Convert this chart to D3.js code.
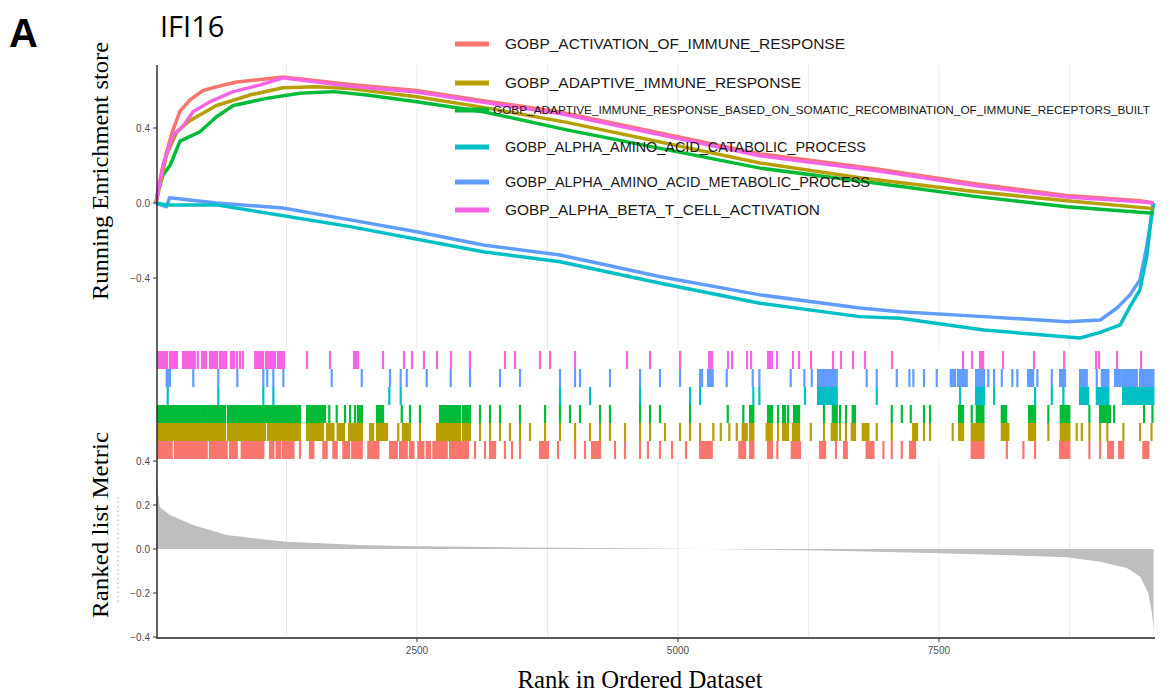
<!DOCTYPE html>
<html>
<head>
<meta charset="utf-8">
<script src="https://cdn.jsdelivr.net/npm/d3@7"></script>
<style>
  body { margin: 0; background: #fff; }
</style>
</head>
<body>
<script>
// GSEA plot for IFI16 - running ES, hit rug, ranked list metric
var W = 1170, H = 693;
var N = 9560;

var setNames = [
  "GOBP_ACTIVATION_OF_IMMUNE_RESPONSE",
  "GOBP_ADAPTIVE_IMMUNE_RESPONSE",
  "GOBP_ADAPTIVE_IMMUNE_RESPONSE_BASED_ON_SOMATIC_RECOMBINATION_OF_IMMUNE_RECEPTORS_BUILT",
  "GOBP_ALPHA_AMINO_ACID_CATABOLIC_PROCESS",
  "GOBP_ALPHA_AMINO_ACID_METABOLIC_PROCESS",
  "GOBP_ALPHA_BETA_T_CELL_ACTIVATION"
];
var setColors = ["#F8766D", "#B79F00", "#00BA38", "#00BFC4", "#619CFF", "#F564E3"];

// running enrichment score, [rank, ES]
var esActivation = [[0,0],[30,0.1],[67,0.2],[150,0.37],[230,0.49],[326,0.55],[450,0.6],[580,0.62],[773,0.645],[1025,0.66],[1217,0.672],[1860,0.632],[2497,0.6],[3135,0.546],[3870,0.486],[5786,0.262],[6905,0.182],[7860,0.102],[8725,0.04],[9430,0.012],[9556,0]];
var esAdaptive = [[0,0],[20,0.05],[100,0.256],[200,0.38],[326,0.44],[580,0.52],[900,0.576],[1217,0.615],[1540,0.62],[1860,0.61],[2497,0.567],[3135,0.51],[3935,0.43],[5786,0.213],[6760,0.133],[7860,0.06],[8725,0.012],[9556,-0.03]];
var esSomatic = [[0,0],[15,0.05],[67,0.15],[134,0.2],[230,0.33],[421,0.38],[580,0.46],[740,0.52],[1060,0.558],[1380,0.585],[1700,0.594],[2020,0.576],[2497,0.54],[3135,0.487],[3935,0.39],[5786,0.186],[6905,0.105],[7860,0.034],[8725,-0.02],[9556,-0.055]];
var esCatabolic = [[0,0],[100,-0.01],[580,-0.01],[1860,-0.126],[3135,-0.26],[3870,-0.313],[4833,-0.428],[5786,-0.535],[6740,-0.606],[7128,-0.615],[7930,-0.677],[8852,-0.72],[9045,-0.69],[9236,-0.65],[9330,-0.553],[9425,-0.464],[9490,-0.286],[9540,-0.05],[9556,0]];
var esMetabolic = [[0,0],[100,-0.02],[130,0.028],[580,0],[1217,-0.027],[1860,-0.09],[2497,-0.153],[3135,-0.224],[3870,-0.277],[4833,-0.393],[5786,-0.49],[6740,-0.56],[7128,-0.58],[7930,-0.606],[8725,-0.633],[9045,-0.624],[9205,-0.56],[9330,-0.49],[9425,-0.41],[9490,-0.233],[9556,0]];
var esAlphaBeta = [[0,0],[67,0.2],[160,0.36],[260,0.41],[355,0.487],[517,0.54],[740,0.594],[1000,0.63],[1217,0.668],[1860,0.622],[2497,0.592],[3135,0.537],[3870,0.477],[5786,0.252],[6905,0.172],[7860,0.092],[8725,0.032],[9430,0.006],[9556,0]];

// hit positions in the ordered list, [from rank, to rank]
var hitsActivation = [[19,150],[182,290],[300,400],[410,486],[517,677],[709,773],[821,1028],[1092,1124],[1156,1188],[1214,1316],[1380,1380],[1475,1507],[1603,1635],[1699,1731],[1795,1850],[1880,1971],[2034,2130],[2242,2306],[2338,2402],[2433,2466],[2513,2561],[2593,2625],[2657,2785],[2817,2912],[2931,2989],[3056,3056],[3152,3152],[3200,3248],[3343,3343],[3410,3410],[3487,3487],[3679,3755],[3851,3851],[4014,4014],[4110,4110],[4177,4254],[4397,4397],[4493,4493],[4637,4637],[4713,4713],[4828,4828],[4943,4943],[5077,5077],[5212,5324],[5588,5643],[5691,5722],[5863,5901],[5952,5952],[6090,6169],[6361,6409],[6514,6514],[6591,6617],[6808,6872],[6968,6968],[7048,7048],[7144,7144],[7223,7271],[7814,7926],[8150,8150],[8309,8309],[8421,8421],[8660,8749],[8941,8941],[9044,9044],[9120,9168],[9226,9264],[9458,9506]];
var hitsAdaptive = [[19,661],[690,1044],[1073,1380],[1447,1600],[1638,1700],[1740,1800],[1850,1973],[2050,2079],[2117,2213],[2321,2321],[2366,2433],[2529,2529],[2692,2912],[2941,3008],[3104,3104],[3200,3200],[3296,3296],[3391,3391],[3487,3487],[3583,3583],[3727,3727],[3870,3870],[4014,4014],[4158,4158],[4254,4254],[4349,4349],[4493,4493],[4637,4637],[4733,4733],[4876,4876],[5020,5020],[5116,5116],[5212,5212],[5339,5339],[5410,5410],[5492,5492],[5563,5563],[5620,5659],[5691,5722],[5850,5898],[5959,5959],[6007,6055],[6102,6160],[6272,6272],[6399,6399],[6473,6521],[6553,6553],[6610,6610],[6665,6696],[6770,6824],[6904,6904],[7048,7048],[7252,7290],[7357,7357],[7415,7415],[7632,7632],[7693,7731],[7814,7926],[8102,8165],[8363,8421],[8548,8548],[8667,8749],[8820,8820],[8868,8868],[8941,8941],[9044,9044],[9113,9113],[9267,9267],[9427,9427],[9536,9536]];
var hitsSomatic = [[19,200],[215,420],[440,661],[690,1063],[1073,1380],[1447,1619],[1660,1660],[1731,1731],[1811,1811],[1859,1859],[1906,1906],[1935,1973],[2117,2175],[2354,2354],[2433,2433],[2529,2529],[2721,2912],[2941,3008],[3104,3104],[3200,3200],[3296,3296],[3487,3487],[3727,3727],[3870,3870],[3966,3966],[4062,4062],[4254,4254],[4349,4349],[4637,4637],[4733,4733],[4828,4828],[5116,5116],[5477,5477],[5626,5626],[5691,5722],[5863,5901],[5959,5959],[6007,6026],[6055,6055],[6112,6160],[6399,6399],[6483,6521],[6553,6553],[6610,6610],[6674,6696],[7048,7048],[7144,7144],[7230,7230],[7357,7357],[7415,7415],[7693,7731],[7814,7814],[7862,7926],[8102,8143],[8363,8421],[8548,8548],[8667,8749],[8941,8941],[9044,9139],[9178,9178],[9465,9465],[9545,9545]];
var hitsCatabolic = [[112,112],[597,597],[1028,1028],[1124,1124],[2235,2235],[2344,2344],[3870,3870],[4158,4158],[4637,4637],[5116,5116],[5212,5212],[5722,5722],[5780,5780],[6217,6217],[6342,6521],[6904,6904],[7702,7702],[7856,7932],[8028,8028],[8421,8421],[8581,8581],[8692,8692],[8852,8929],[9012,9123],[9264,9554]];
var hitsMetabolic = [[103,134],[357,357],[597,597],[779,779],[1028,1028],[1066,1066],[1124,1124],[1220,1220],[1683,1683],[1971,1971],[2242,2242],[2344,2344],[2402,2402],[2593,2593],[2823,2823],[3008,3008],[3296,3296],[3487,3487],[3870,3870],[4014,4014],[4062,4062],[4349,4349],[4637,4637],[4828,4828],[5020,5020],[5212,5231],[5288,5333],[5467,5467],[5716,5716],[5780,5780],[6080,6080],[6211,6211],[6282,6282],[6342,6521],[6808,6808],[6904,6904],[7096,7096],[7217,7217],[7255,7255],[7357,7357],[7479,7479],[7613,7654],[7683,7721],[7740,7766],[7856,7932],[7973,7973],[8028,8028],[8102,8102],[8203,8203],[8251,8251],[8354,8402],[8443,8443],[8581,8581],[8660,8708],[8852,8916],[9012,9012],[9060,9123],[9187,9242],[9264,9395],[9427,9554]];
var hitsAlphaBeta = [[19,105],[134,201],[259,354],[374,374],[402,402],[441,441],[460,479],[517,565],[584,584],[613,671],[718,747],[776,776],[805,805],[833,833],[948,1025],[1054,1054],[1073,1121],[1140,1140],[1169,1226],[1447,1447],[1667,1667],[1897,1935],[2175,2175],[2376,2376],[2452,2452],[2567,2567],[2692,2692],[2826,2826],[3008,3008],[3343,3343],[3439,3439],[3679,3679],[3775,3775],[4014,4014],[4512,4512],[4733,4733],[5020,5020],[5298,5326],[5480,5480],[5518,5518],[5662,5662],[5700,5700],[5863,5901],[5949,5949],[6102,6102],[6160,6160],[6275,6275],[6486,6486],[6562,6562],[6677,6677],[6792,6792],[7051,7051],[7731,7731],[7817,7817],[7894,7923],[8114,8114],[8411,8411],[8699,8699],[9005,9005],[9034,9034],[9206,9206],[9436,9436]];

// ranked list metric
var metricRank  = [0, 8, 20, 38, 134, 355, 677, 997, 1250, 1955, 2500, 3500, 4500, 5500, 6500, 7605, 8725, 9045, 9300, 9428, 9505, 9540, 9556];
var metricValue = [0.38, 0.33, 0.24, 0.19, 0.155, 0.109, 0.064, 0.045, 0.033, 0.018, 0.012, 0.007, 0.003, -0.001, -0.008, -0.02, -0.037, -0.058, -0.086, -0.126, -0.2, -0.29, -0.37];

var xTicks = [2500, 5000, 7500];
var xMinor = [1250, 3750, 6250, 8750];
var esTicks = [-0.4, 0, 0.4];
var metricTicks = [-0.4, -0.2, 0, 0.2, 0.4];

var esCurves = [esActivation, esAdaptive, esSomatic, esCatabolic, esMetabolic, esAlphaBeta];
var hitSets = [hitsActivation, hitsAdaptive, hitsSomatic, hitsCatabolic, hitsMetabolic, hitsAlphaBeta];

var sans = '"Liberation Sans", Arial, sans-serif';
var serif = '"Liberation Serif", "Times New Roman", serif';

var svg = d3.select("body").append("svg")
  .attr("width", W)
  .attr("height", H)
  .style("font-family", sans);

var x = d3.scaleLinear().domain([0, N]).range([156, 1154]);
var yES = d3.scaleLinear().domain([-0.4, 0.4]).range([278, 128]);
var yMetric = d3.scaleLinear().domain([-0.4, 0.4]).range([637, 461]);
var rugRow = d3.scaleBand().domain([5, 4, 3, 2, 1, 0]).range([351, 459]);

var fmt = d3.format(".1f");

// grid lines (top panel and bottom panel, rug band has none)
var gridVals = xTicks.concat(xMinor);
[[65, 349], [459, 637]].forEach(function(r) {
  svg.append("g").selectAll("line")
    .data(gridVals).enter().append("line")
    .attr("x1", function(d) { return x(d); })
    .attr("x2", function(d) { return x(d); })
    .attr("y1", r[0]).attr("y2", r[1])
    .attr("stroke", "#ebebeb")
    .attr("stroke-width", 1);
});

// ranked list metric area
var metricData = metricRank.map(function(r, i) { return [r, metricValue[i]]; });
svg.append("path")
  .datum(metricData)
  .attr("fill", "#bebebe")
  .attr("d", d3.area()
    .x(function(d) { return x(d[0]); })
    .y0(yMetric(0))
    .y1(function(d) { return yMetric(d[1]); }));

// rug of hits
hitSets.forEach(function(hits, i) {
  svg.append("g").selectAll("rect")
    .data(hits).enter().append("rect")
    .attr("x", function(d) { return x(d[0]) - 1.1; })
    .attr("width", function(d) { return x(d[1]) - x(d[0]) + 2.2; })
    .attr("y", rugRow(i))
    .attr("height", rugRow.bandwidth())
    .attr("fill", setColors[i]);
});

// running enrichment score lines
var esLine = d3.line()
  .x(function(d) { return x(d[0]); })
  .y(function(d) { return yES(d[1]); });

[4, 3, 2, 1, 0, 5].forEach(function(i) {
  svg.append("path")
    .datum(esCurves[i])
    .attr("fill", "none")
    .attr("stroke", setColors[i])
    .attr("stroke-width", 3.5)
    .attr("stroke-linejoin", "round")
    .attr("d", esLine);
});

// axes
svg.append("line")
  .attr("x1", 157).attr("x2", 157).attr("y1", 65).attr("y2", 638)
  .attr("stroke", "#222").attr("stroke-width", 1.4);
svg.append("line")
  .attr("x1", 156).attr("x2", 1155).attr("y1", 638).attr("y2", 638)
  .attr("stroke", "#222").attr("stroke-width", 1.4);

function yTicks(vals, scale) {
  var g = svg.append("g");
  g.selectAll("line").data(vals).enter().append("line")
    .attr("x1", 153).attr("x2", 157)
    .attr("y1", function(d) { return scale(d); })
    .attr("y2", function(d) { return scale(d); })
    .attr("stroke", "#333");
  g.selectAll("text").data(vals).enter().append("text")
    .attr("x", 150)
    .attr("y", function(d) { return scale(d) + 3.5; })
    .attr("text-anchor", "end")
    .attr("font-size", 10)
    .attr("fill", "#4d4d4d")
    .text(function(d) { return fmt(d); });
}
yTicks(esTicks, yES);
yTicks(metricTicks, yMetric);

var xg = svg.append("g");
xg.selectAll("line").data(xTicks).enter().append("line")
  .attr("x1", function(d) { return x(d); })
  .attr("x2", function(d) { return x(d); })
  .attr("y1", 638).attr("y2", 642)
  .attr("stroke", "#333");
xg.selectAll("text").data(xTicks).enter().append("text")
  .attr("x", function(d) { return x(d); })
  .attr("y", 654)
  .attr("text-anchor", "middle")
  .attr("font-size", 10)
  .attr("fill", "#4d4d4d")
  .text(function(d) { return d; });

// faint leftover dotted mark next to bottom axis
svg.append("line")
  .attr("x1", 118).attr("x2", 118).attr("y1", 497).attr("y2", 602)
  .attr("stroke", "#aaa").attr("stroke-width", 1)
  .attr("stroke-dasharray", "1.5,3");

// axis titles
svg.append("text")
  .attr("transform", "translate(108,171) rotate(-90)")
  .attr("text-anchor", "middle")
  .style("font-family", serif)
  .attr("font-size", 24)
  .attr("textLength", 258)
  .attr("lengthAdjust", "spacingAndGlyphs")
  .text("Running Enrichment store");
svg.append("text")
  .attr("transform", "translate(108,525) rotate(-90)")
  .attr("text-anchor", "middle")
  .style("font-family", serif)
  .attr("font-size", 24)
  .attr("textLength", 186)
  .attr("lengthAdjust", "spacingAndGlyphs")
  .text("Ranked list Metric");
svg.append("text")
  .attr("x", 640).attr("y", 688)
  .attr("text-anchor", "middle")
  .style("font-family", serif)
  .attr("font-size", 25)
  .attr("textLength", 245)
  .attr("lengthAdjust", "spacingAndGlyphs")
  .text("Rank in Ordered Dataset");

// title and panel letter
svg.append("text")
  .attr("x", 160).attr("y", 37)
  .style("font-family", '"Open Sans", "Liberation Sans", sans-serif')
  .attr("font-size", 29)
  .text("IFI16");
svg.append("text")
  .attr("x", 9).attr("y", 47)
  .attr("font-weight", "bold")
  .attr("font-size", 40)
  .text("A");

// legend
var legY = [44, 83, 110, 147, 182, 210];
var legTextX = [505, 505, 493, 505, 505, 505];
var legLen = [340, 296, 657, 361, 365, 315];
var legSize = [14, 14, 11, 14, 14, 14];
var leg = svg.append("g");
setNames.forEach(function(name, i) {
  leg.append("line")
    .attr("x1", 455).attr("x2", 489)
    .attr("y1", legY[i]).attr("y2", legY[i])
    .attr("stroke", setColors[i])
    .attr("stroke-width", 5);
  leg.append("text")
    .attr("x", legTextX[i])
    .attr("y", legY[i] + legSize[i] * 0.36)
    .attr("font-size", legSize[i])
    .attr("fill", "#1a1a1a")
    .attr("textLength", legLen[i])
    .attr("lengthAdjust", "spacingAndGlyphs")
    .text(name);
});
</script>
</body>
</html>
